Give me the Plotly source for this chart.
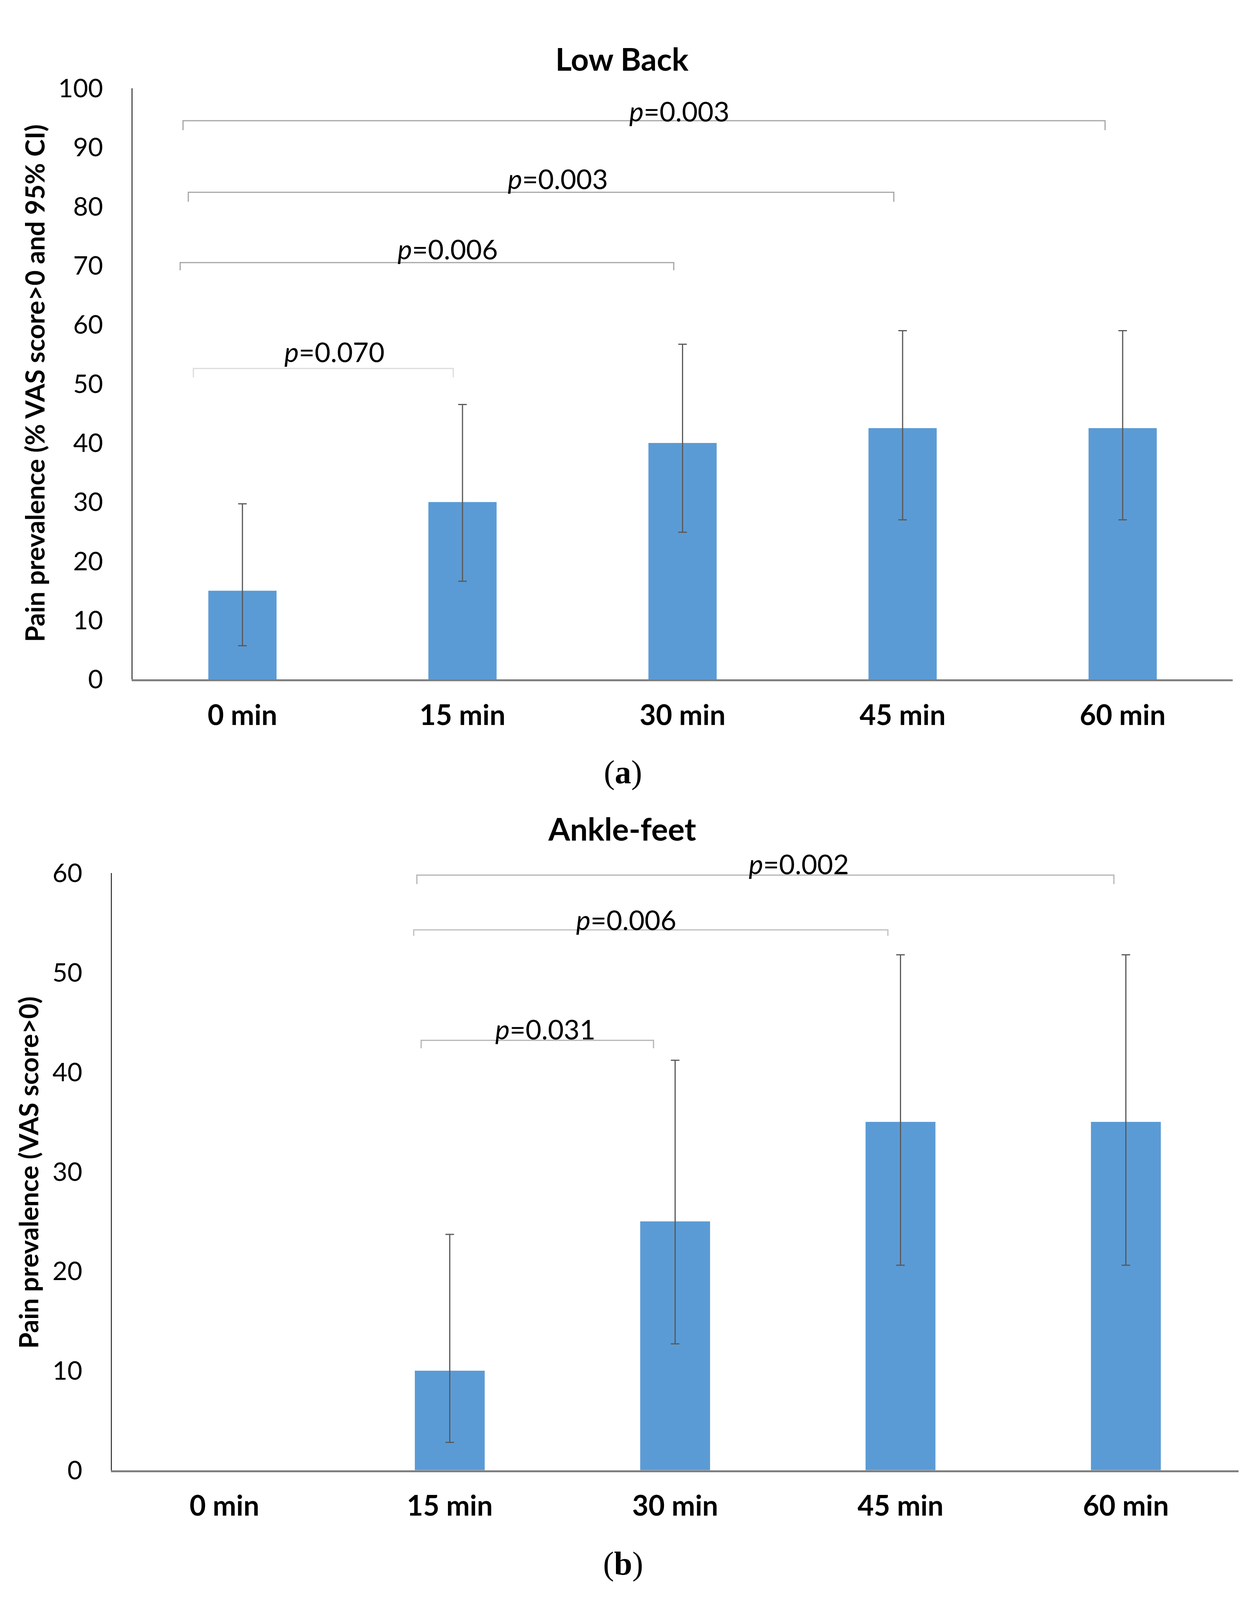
import plotly.graph_objects as go

# ---------------- data ----------------
categories = ["0 min", "15 min", "30 min", "45 min", "60 min"]

low_back_prev = [15, 30, 40, 42.5, 42.5]
low_back_ci_upper = [29.7, 46.5, 56.7, 59.0, 59.0]
low_back_ci_lower = [5.7, 16.6, 24.9, 27.0, 27.0]

ankle_prev = [0, 10, 25, 35, 35]
ankle_ci_upper = [None, 23.7, 41.2, 51.8, 51.8]
ankle_ci_lower = [None, 2.8, 12.7, 20.6, 20.6]

low_back_pvalues = ["0.070", "0.006", "0.003", "0.003"]
ankle_pvalues = ["0.031", "0.006", "0.002"]

low_back_ticks = list(range(0, 101, 10))
ankle_ticks = list(range(0, 61, 10))

# ---------------- layout constants (reference pixel grid 3208 x 4544) ----------------
W, H = 3208, 4544
BAR_COLOR = "#5B9BD5"
ERR_COLOR = "#595959"
FONT = "Lato, 'Open Sans', Arial, sans-serif"
SERIF = "'Liberation Serif', 'DejaVu Serif', serif"


def py(px):
    """reference pixel row -> paper fraction"""
    return 1 - px / H


fig = go.Figure()


def add_panel(values, upper, lower, xa, ya):
    fig.add_trace(go.Bar(
        x=categories, y=values, xaxis=xa, yaxis=ya,
        marker=dict(color=BAR_COLOR, line=dict(width=0)), width=0.31,
        showlegend=False, hoverinfo="skip"))
    pts = [(c, v, u, l) for c, v, u, l in zip(categories, values, upper, lower)
           if u is not None]
    fig.add_trace(go.Scatter(
        x=[p[0] for p in pts], y=[p[1] for p in pts], xaxis=xa, yaxis=ya,
        mode="markers", marker=dict(size=1, opacity=0),
        error_y=dict(type="data", symmetric=False,
                     array=[p[2] - p[1] for p in pts],
                     arrayminus=[p[1] - p[3] for p in pts],
                     color=ERR_COLOR, thickness=3, width=11),
        showlegend=False, hoverinfo="skip"))


add_panel(low_back_prev, low_back_ci_upper, low_back_ci_lower, "x", "y")
add_panel(ankle_prev, ankle_ci_upper, ankle_ci_lower, "x2", "y2")

# bracket geometry: (x0, x1, line level, tick end, text x, text centre row px, colour)
low_back_brackets = [
    (-0.223, 0.958, 52.6, 51.1, 0.418, 970, "#dcdcdc"),
    (-0.283, 1.96, 70.5, 69.2, 0.933, 673, "#a6a6a6"),
    (-0.246, 2.96, 82.4, 80.8, 1.434, 469, "#a6a6a6"),
    (-0.270, 3.92, 94.5, 92.9, 1.985, 274, "#a6a6a6"),
]
ankle_brackets = [
    (0.873, 1.904, 43.2, 42.4, 1.424, 2932, "#b4b4b4"),
    (0.840, 2.944, 54.3, 53.7, 1.784, 2615, "#bfbfbf"),
    (0.854, 3.947, 59.8, 58.9, 2.550, 2453, "#b4b4b4"),
]

shapes = []
annotations = []


def add_brackets(brackets, pvals, xr, yr):
    for (x0, x1, yl, yt, tx, trow, col), p in zip(brackets, pvals):
        shapes.append(dict(
            type="path", xref=xr, yref=yr,
            path=f"M {x0},{yt} L {x0},{yl} L {x1},{yl} L {x1},{yt}",
            line=dict(color=col, width=3)))
        annotations.append(dict(
            x=tx, y=py(trow), xref=xr, yref="paper", text=f"<i>p</i>={p}",
            showarrow=False, xanchor="center", yanchor="middle",
            font=dict(family=FONT, size=70, color="black")))


add_brackets(low_back_brackets, low_back_pvalues, "x", "y")
add_brackets(ankle_brackets, ankle_pvalues, "x2", "y2")

# titles, axis titles, captions
annotations += [
    dict(x=1592 / W, y=py(122), xref="paper", yref="paper", text="<b>Low Back</b>",
         showarrow=False, xanchor="center", yanchor="middle",
         font=dict(family=FONT, size=80, color="black")),
    dict(x=1592 / W, y=py(2352), xref="paper", yref="paper", text="<b>Ankle-feet</b>",
         showarrow=False, xanchor="center", yanchor="middle",
         font=dict(family=FONT, size=80, color="black")),
    dict(x=88 / W, y=py(1063), xref="paper", yref="paper",
         text="<b>Pain prevalence (% VAS score>0 and 95% CI)</b>", textangle=-90,
         showarrow=False, xanchor="center", yanchor="middle",
         font=dict(family=FONT, size=67, color="black")),
    dict(x=72 / W, y=py(3348), xref="paper", yref="paper",
         text="<b>Pain prevalence (VAS score>0)</b>", textangle=-90,
         showarrow=False, xanchor="center", yanchor="middle",
         font=dict(family=FONT, size=67, color="black")),
    dict(x=1595 / W, y=py(2189), xref="paper", yref="paper", text="(<b>a</b>)",
         showarrow=False, xanchor="center", yanchor="middle",
         font=dict(family=SERIF, size=84, color="black")),
    dict(x=1595 / W, y=py(4481), xref="paper", yref="paper", text="(<b>b</b>)",
         showarrow=False, xanchor="center", yanchor="middle",
         font=dict(family=SERIF, size=84, color="black")),
]

xaxis_common = dict(type="category", range=[-0.5, 4.5], showline=True,
                    linecolor="#7f7f7f", linewidth=5, ticks="", showgrid=False,
                    zeroline=False, ticklabelstandoff=25,
                    tickfont=dict(family=FONT, size=72, color="black"))
yaxis_common = dict(showline=True, linecolor="black", linewidth=2, ticks="",
                    showgrid=False, zeroline=False, ticklabelstandoff=60,
                    tickfont=dict(family=FONT, size=66, color="black"))

fig.update_layout(
    autosize=True,
    margin=dict(l=0, r=0, t=0, b=0, pad=0),
    paper_bgcolor="white", plot_bgcolor="white",
    xaxis=dict(domain=[339 / W, 3156 / W], anchor="y",
               categoryorder="array", categoryarray=categories,
               tickvals=categories, ticktext=[f"<b>{c}</b>" for c in categories],
               **xaxis_common),
    yaxis=dict(domain=[py(1920), py(208)], anchor="x", range=[0, 100],
               tickvals=low_back_ticks, **yaxis_common),
    xaxis2=dict(domain=[286 / W, 3171 / W], anchor="y2",
                categoryorder="array", categoryarray=categories,
                tickvals=categories, ticktext=[f"<b>{c}</b>" for c in categories],
                **xaxis_common),
    yaxis2=dict(domain=[py(4210), py(2481)], anchor="x2", range=[0, 60],
                tickvals=ankle_ticks, **yaxis_common),
    shapes=shapes,
    annotations=annotations,
)

# fill the browser window exactly (no page margin, no scrollbars)
post = """
document.documentElement.style.margin = '0';
document.body.style.margin = '0';
document.body.style.overflow = 'hidden';
var gd = document.getElementById('{plot_id}');
gd.style.width = window.innerWidth + 'px';
gd.style.height = window.innerHeight + 'px';
Plotly.Plots.resize(gd);
"""

fig.write_html("out.html", default_width="100vw", default_height="100vh",
               config={"responsive": True, "displayModeBar": False},
               post_script=post)
